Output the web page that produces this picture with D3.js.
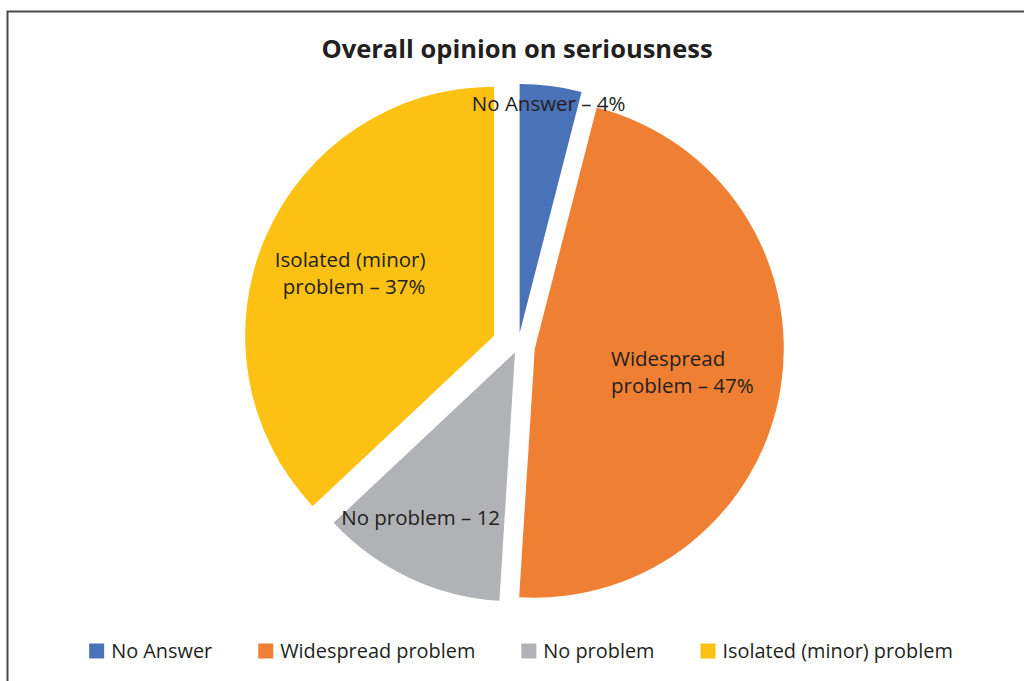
<!DOCTYPE html>
<html>
<head>
<meta charset="utf-8">
<script src="https://cdn.jsdelivr.net/npm/d3@7"></script>
<style>
  html, body { margin: 0; padding: 0; background: #fff; }
  svg { display: block; }
</style>
</head>
<body>
<svg id="chart" width="1024" height="681"></svg>
<script>
// ---- data ----
const title = "Overall opinion on seriousness";
const categories = ["No Answer", "Widespread problem", "No problem", "Isolated (minor) problem"];
const values = [4, 47, 12, 37];
const labelLines = [
  ["No Answer – 4%"],
  ["Widespread", "problem – 47%"],
  ["No problem – 12"],
  ["Isolated (minor)", "problem – 37%"]
];
const colors = ["#4A72B8", "#EF8033", "#B1B2B5", "#FCC112"];

// ---- layout / style ----
const FONT = "'Open Sans', 'Noto Sans', sans-serif";
const TEXT = "#231F20";
const cx = 518, cy = 346, R = 249;
const explode = [13, 17, 7, 26];             // px each slice is pulled out
const labelRadius = [0.93, 0.6, 0.765, 0.63]; // fraction of R
const labelAngleShift = [0, 0, 4.5, 0];       // degrees added to mid angle
const labelAlign = ["middle", "start", "middle", "end"];

const svg = d3.select("#chart");

// border (frame continues past right and bottom edge)
svg.append("rect")
  .attr("x", 7.5).attr("y", 11.5)
  .attr("width", 1100).attr("height", 800)
  .attr("fill", "none").attr("stroke", "#4a4a4a").attr("stroke-width", 2);

// title
svg.append("text")
  .attr("x", 517).attr("y", 58)
  .attr("text-anchor", "middle")
  .attr("font-family", FONT).attr("font-weight", "bold")
  .attr("font-size", 25.5).attr("fill", TEXT)
  .text(title);

const pie = d3.pie().sort(null).value(d => d)(values);
const arc = d3.arc().innerRadius(0).outerRadius(R);

const g = svg.append("g").attr("transform", `translate(${cx},${cy})`);
const offset = (d, i) => {
  const a = (d.startAngle + d.endAngle) / 2;
  return [Math.sin(a) * explode[i], -Math.cos(a) * explode[i]];
};

const sliceLayer = g.append("g");
const labelLayer = g.append("g");

sliceLayer.selectAll("path").data(pie).join("path")
  .attr("transform", (d, i) => `translate(${offset(d, i)})`)
  .attr("d", arc)
  .attr("fill", (d, i) => colors[i]);

// labels (drawn above all slices)
const LABEL_FS = 20.5, LINE_H = 27;
labelLayer.selectAll("g").data(pie).join("g")
  .attr("transform", (d, i) => `translate(${offset(d, i)})`)
  .each(function (d, i) {
    const a = (d.startAngle + d.endAngle) / 2 + labelAngleShift[i] * Math.PI / 180;
    const lx = Math.sin(a) * R * labelRadius[i];
    const ly = -Math.cos(a) * R * labelRadius[i];
    const lines = labelLines[i];
    const t = d3.select(this).append("text")
      .attr("font-family", FONT).attr("font-size", LABEL_FS).attr("fill", TEXT);
    const spans = lines.map((s, k) => t.append("tspan").attr("x", 0)
      .attr("y", k * LINE_H).text(s));
    const widths = spans.map(sp => sp.node().getComputedTextLength());
    const maxW = d3.max(widths);
    const blockTop = ly - ((lines.length - 1) * LINE_H) / 2;
    spans.forEach((sp, k) => {
      let x;
      if (labelAlign[i] === "start") x = lx - maxW / 2;
      else if (labelAlign[i] === "end") x = lx + maxW / 2 - widths[k];
      else x = lx - widths[k] / 2;
      sp.attr("x", x).attr("y", blockTop + k * LINE_H + LABEL_FS * 0.36);
    });
  });

// legend
const LEG_FS = 19.9, SQ = 15, SQ_GAP = 7, ITEM_GAP = 46, LEG_Y = 651;
const legend = svg.append("g");
const items = legend.selectAll("g").data(categories).join("g");
items.append("rect")
  .attr("width", SQ).attr("height", SQ)
  .attr("y", LEG_Y - SQ / 2)
  .attr("fill", (d, i) => colors[i]);
items.append("text")
  .attr("x", SQ + SQ_GAP).attr("y", LEG_Y + LEG_FS * 0.36)
  .attr("font-family", FONT).attr("font-size", LEG_FS).attr("fill", TEXT)
  .text(d => d);
let xs = [], acc = 0;
items.each(function (d, i) {
  const w = SQ + SQ_GAP + d3.select(this).select("text").node().getComputedTextLength();
  xs.push(acc); acc += w + ITEM_GAP;
});
const total = acc - ITEM_GAP;
const start = 521 - total / 2;
items.attr("transform", (d, i) => `translate(${start + xs[i]},0)`);
</script>
</body>
</html>
